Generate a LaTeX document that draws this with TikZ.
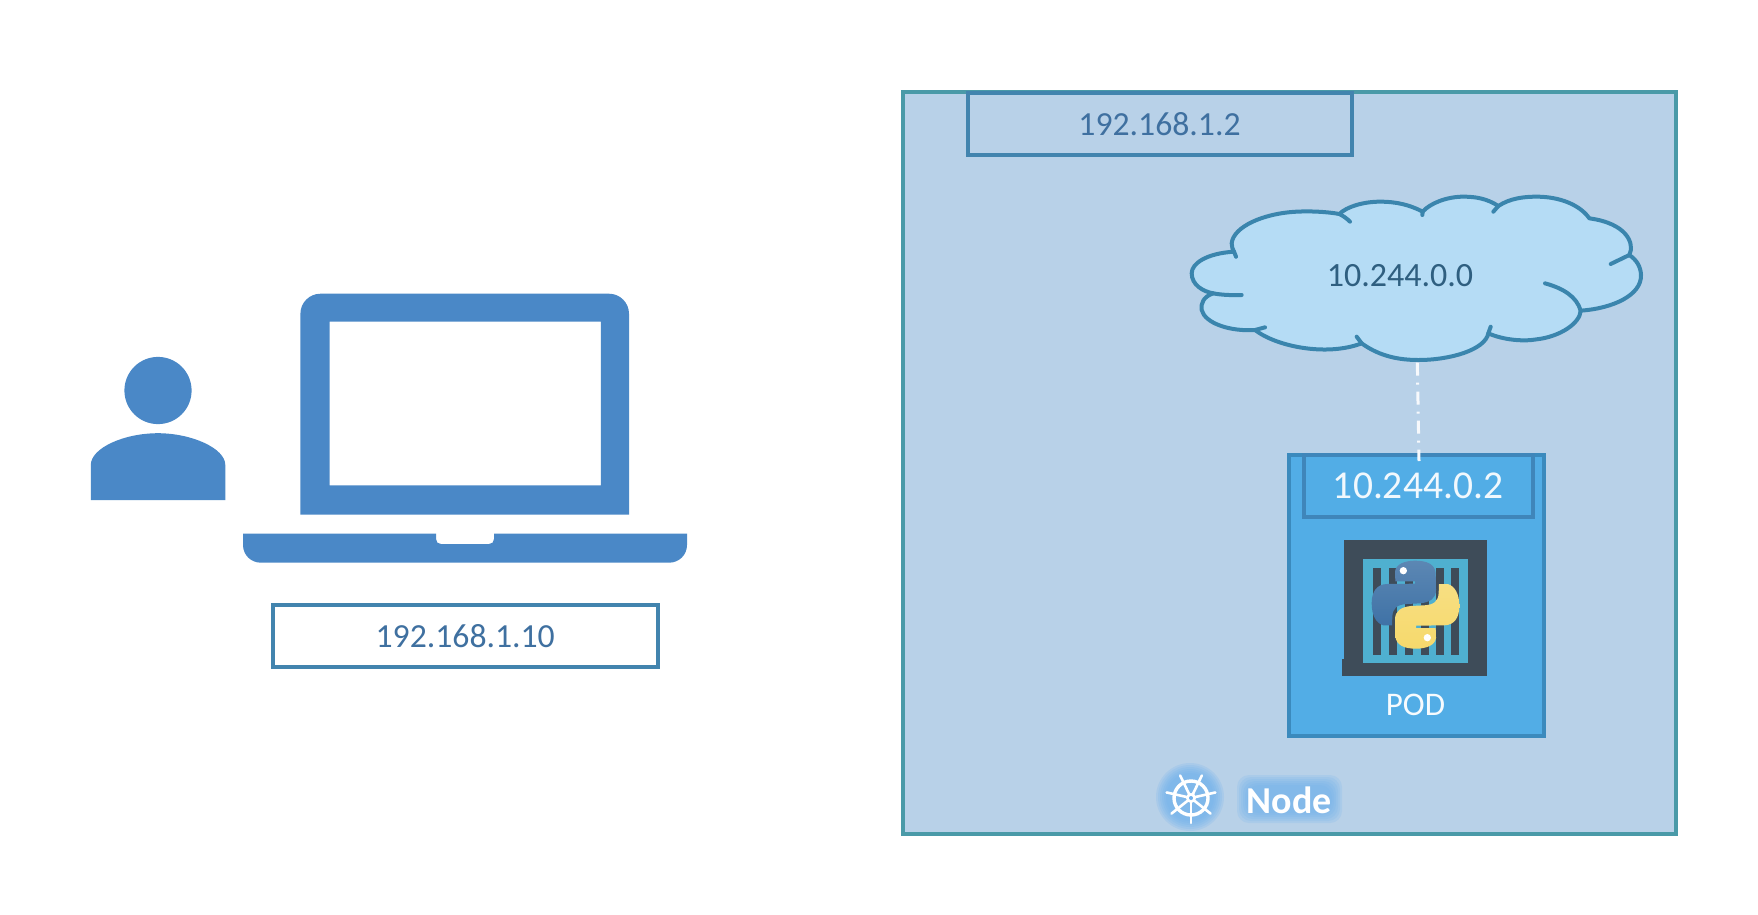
\documentclass[tikz,border=0pt]{standalone}
\usepackage{fontspec}
\setmainfont{Carlito}
\definecolor{nodefill}{HTML}{B8D1E8}
\definecolor{nodeline}{HTML}{4A9AA8}
\definecolor{addrline}{HTML}{4284AE}
\definecolor{addrtext}{HTML}{3F70A0}
\definecolor{iconblue}{HTML}{4A88C7}
\definecolor{cloudfill}{HTML}{B5DCF5}
\definecolor{cloudline}{HTML}{3A85AD}
\definecolor{cloudtext}{HTML}{2F5F80}
\definecolor{podfill}{HTML}{52ADE6}
\definecolor{podline}{HTML}{3B8ABD}
\definecolor{podbox}{HTML}{3F86BA}
\definecolor{frameclr}{HTML}{3E4C59}
\definecolor{slot}{HTML}{4FB0D0}
\definecolor{pyblue}{HTML}{3F72A6}
\definecolor{pyyellow}{HTML}{F6D96C}
\definecolor{glow}{HTML}{6FB1EE}
\newcommand{\fs}[1]{\fontsize{#1}{#1}\selectfont}
\newcommand{\snake}{(495,362) .. controls (530,362) and (555,372) .. (557,400) -- (558,450)
      .. controls (558,475) and (540,487) .. (510,490) -- (470,492)
      .. controls (440,494) and (428,505) .. (427,530) -- (426,556) -- (400,556)
      .. controls (378,550) and (365,525) .. (365,490) .. controls (365,455) and (380,433) .. (410,432)
      -- (495,431) -- (495,424) -- (436,424) -- (435,395) .. controls (437,372) and (465,362) .. (495,362) -- cycle}
\tikzset{
  box/.style={draw=addrline,line width=4pt,minimum width=#1,inner sep=0pt,outer sep=0pt,text=addrtext,font=\fs{33.7}},
  zoomed/.style={x=0.33333pt,y=-0.33333pt}
}
\begin{document}
\begin{tikzpicture}[x=1pt,y=-1pt]
\useasboundingbox (0,0) rectangle (1758,914);
\fill[white] (0,0) rectangle (1758,914);

% person
\fill[iconblue] (158,390.5) circle[radius=33.6];
\fill[iconblue] (90.8,500) -- (90.8,465) .. controls (90.8,448) and (124,433.2) .. (158,433.2) .. controls (191,433.2) and (225.3,448) .. (225.3,465) -- (225.3,500) -- cycle;

% laptop
\fill[iconblue,even odd rule] (300.4,514.5) -- (300.4,313.7) .. controls (300.4,302.7) and (309.4,293.7) .. (320.4,293.7) -- (609,293.7) .. controls (620,293.7) and (629,302.7) .. (629,313.7) -- (629,514.5) -- cycle
  (329.6,321.7) rectangle (600.9,485.4);
\fill[iconblue] (243,533.6) -- (436,533.6) -- (436,539) .. controls (436,542) and (438,544) .. (441,544) -- (489,544) .. controls (492,544) and (494,542) .. (494,539) -- (494,533.6) -- (687,533.6) -- (687,545) .. controls (687,555) and (679,562.7) .. (669,562.7) -- (261,562.7) .. controls (251,562.7) and (243,555) .. (243,545) -- cycle;
\node[box=385pt,minimum height=62pt] (clientip) at (465.2,636) {192.168.1.10};

% Kubernetes node
\node[draw=nodeline,fill=nodefill,line width=4pt,minimum width=773pt,minimum height=742pt,inner sep=0pt,outer sep=0pt] (k8snode) at (1289.5,463) {};
\node[box=384pt,minimum height=62pt] (nodeip) at (1159.5,124) {192.168.1.2};

% cloud
\begin{scope}[shift={(1170,180)},zoomed]
  \filldraw[fill=cloudfill,draw=cloudline,line width=4pt,line join=round]
    (192,215) .. controls (110,220) and (65,250) .. (65,280) .. controls (65,315) and (100,335) .. (130,340)
    .. controls (100,350) and (92,370) .. (95,390) .. controls (105,430) and (180,455) .. (255,450)
    .. controls (320,500) and (470,530) .. (575,490)
    .. controls (630,530) and (690,540) .. (745,540) .. controls (840,540) and (945,510) .. (955,460)
    .. controls (1000,480) and (1060,485) .. (1100,478) .. controls (1170,470) and (1230,430) .. (1232,392)
    .. controls (1330,385) and (1415,345) .. (1413,285) .. controls (1412,260) and (1400,240) .. (1378,225)
    .. controls (1395,190) and (1370,130) .. (1258,115)
    .. controls (1230,75) and (1170,50) .. (1100,50) .. controls (1060,50) and (1020,55) .. (985,78)
    .. controls (950,55) and (915,50) .. (880,50) .. controls (830,50) and (780,70) .. (758,95)
    .. controls (720,75) and (680,65) .. (630,65) .. controls (580,65) and (530,80) .. (508,102)
    .. controls (470,95) and (420,93) .. (380,95) .. controls (280,100) and (190,140) .. (185,190)
    .. controls (185,200) and (188,208) .. (192,215) -- cycle;
  \draw[cloudline,line width=4pt,line cap=round]
    (130,340) .. controls (155,345) and (185,346) .. (215,345)
    (255,450) -- (285,442)
    (575,490) -- (560,470)
    (955,460) -- (962,440)
    (1232,392) .. controls (1220,350) and (1180,325) .. (1125,310)
    (1378,225) -- (1322,252)
    (985,78) -- (970,95)
    (758,95) -- (757,105)
    (508,102) .. controls (520,108) and (530,115) .. (540,125)
    (192,215) -- (198,230);
  \coordinate (cloudfoot) at (742,548);
\end{scope}
\node[text=cloudtext,font=\fs{34},inner sep=0pt] (cloudlabel) at (1400,275.5) {10.244.0.0};

% pod
\node[draw=podline,fill=podfill,line width=4pt,minimum width=255pt,minimum height=281pt,inner sep=0pt,outer sep=0pt] (pod) at (1416,595) {};
\node[draw=podbox,line width=4pt,minimum width=229pt,minimum height=62pt,inner sep=0pt,outer sep=0pt,text=white!92!podfill,font=\fs{39.5}] (podip) at (1418,486) {10.244.0.2};
\node[text=white!95!podfill,font=\fs{33},inner sep=0pt] (podlabel) at (1415.5,705) {POD};
\coordinate (podtop) at (1419,461);
\draw[white!88!nodefill,line width=3pt,dash pattern=on 13pt off 7pt on 2pt off 7pt] (cloudfoot) -- (podtop);

% container with python logo
\begin{scope}[shift={(1250,440)},zoomed]
  \fill[frameclr] (282,300) rectangle (712,708);
  \fill[frameclr] (277,658) rectangle (290,708);
  \fill[slot] (340,358) rectangle (655,670);
  \foreach \bx in {368,416,464,512,558,604} \fill[frameclr] (\bx,385) rectangle +(24,260);
  \shade[top color=pyblue!85!white,bottom color=pyblue] \snake;
  \begin{scope}[rotate around={180:(496.5,494)}]
    \shade[top color=pyyellow!85!white,bottom color=pyyellow] \snake;
  \end{scope}
  \fill[white] (460,392) circle[radius=11] (532,593) circle[radius=11];
\end{scope}

% Node label with glow
\foreach \g in {34,32,30,28,26,24} {
  \fill[glow,opacity=0.2] (1190,797) circle[radius=\g];
}
\foreach \g in {12,10,8,6,4,2} {
  \fill[glow,opacity=0.18,rounded corners=12pt] (1249-\g,787-\g) rectangle (1330+\g,811+\g);
}
\foreach \k in {0,...,6} {
  \draw[white,line width=2.6pt,line cap=round] (1191,798) -- ++({90+\k*360/7}:25);
}
\draw[white,line width=3.4pt] (1191,798) circle[radius=17];
\fill[white] (1191,798) circle[radius=5];
\fill[glow] (1191,798) circle[radius=2];
\node[text=white,font=\fs{38}\bfseries,inner sep=0pt] (nodelabel) at (1289,800) {Node};
\end{tikzpicture}
\end{document}
